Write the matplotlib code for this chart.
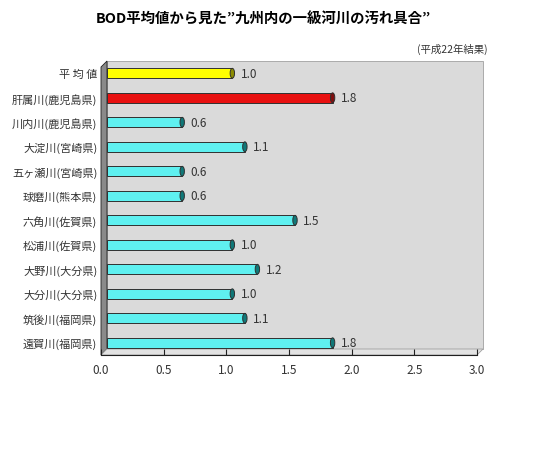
import numpy as np
import matplotlib
matplotlib.use("Agg")
import matplotlib.pyplot as plt
from matplotlib.patches import Polygon, Ellipse

plt.rcParams['font.family'] = ['Noto Sans CJK JP', 'DejaVu Sans']

# data
rivers = ['平 均 値', '肝属川(鹿児島県)', '川内川(鹿児島県)', '大淀川(宮崎県)',
          '五ヶ瀬川(宮崎県)', '球磨川(熊本県)', '六角川(佐賀県)', '松浦川(佐賀県)',
          '大野川(大分県)', '大分川(大分県)', '筑後川(福岡県)', '遠賀川(福岡県)']
bod = [1.0, 1.8, 0.6, 1.1, 0.6, 0.6, 1.5, 1.0, 1.2, 1.0, 1.1, 1.8]
bar_colors = ['#ffff00', '#e81010'] + ['#5ff0f0'] * 10
cap_colors = ['#8c8c00', '#801010'] + ['#107878'] * 10
x_ticks = [0.0, 0.5, 1.0, 1.5, 2.0, 2.5, 3.0]

W, H = 557, 464
fig = plt.figure(figsize=(W / 100, H / 100), dpi=100)

def fx(px):
    return px / W

def fy(py):
    return 1 - py / H

# background axes in pixel coords for the pseudo 3D walls
bg = fig.add_axes([0, 0, 1, 1])
bg.set_xlim(0, W)
bg.set_ylim(H, 0)
bg.axis('off')
back = Polygon([(107, 62), (483, 62), (483, 350), (107, 350)], closed=True,
               facecolor='#dadada', edgecolor='#a0a0a0', lw=0.6)
left = Polygon([(101, 68), (107, 62), (107, 350), (101, 356)], closed=True,
               facecolor='#8a8a8a', edgecolor='#202020', lw=0.6)
floor = Polygon([(101, 356), (477, 356), (483, 350), (107, 350)], closed=True,
                facecolor='#e2e2e2', edgecolor='#a0a0a0', lw=0.6)
for p in (back, left, floor):
    bg.add_patch(p)

# bars on the back plane
ax = fig.add_axes([fx(107), fy(356), fx(483) - fx(107), fy(62) - fy(356)])
ax.patch.set_alpha(0)
y = np.arange(len(rivers))
ax.barh(y, bod, height=0.4, color=bar_colors, edgecolor='#303030', lw=0.7, zorder=3)
for i, v in enumerate(bod):
    ax.add_patch(Ellipse((v, i), 0.035, 0.4, facecolor=cap_colors[i],
                         edgecolor='#303030', lw=0.7, zorder=4))
    ax.text(v + 0.065, i, f'{v:.1f}', va='center', ha='left', fontsize=8.5, color='#333333')
ax.set_xlim(0, 3)
ax.set_ylim(len(rivers) - 0.5, -0.5)
ax.set_yticks(y)
ax.set_yticklabels(rivers, fontsize=8, color='#333333')
ax.tick_params(axis='y', length=0, pad=7)
ax.set_xticks([])
for s in ax.spines.values():
    s.set_visible(False)

# front value axis
ax2 = fig.add_axes([fx(101), fy(356), fx(477) - fx(101), 0.001])
ax2.patch.set_alpha(0)
ax2.set_xlim(0, 3)
ax2.set_xticks(x_ticks)
ax2.set_xticklabels([f'{t:.1f}' for t in x_ticks], fontsize=8.5, color='#333333')
ax2.tick_params(axis='x', direction='in', length=4, pad=6, color='#202020')
ax2.set_yticks([])
for k in ('top', 'left', 'right'):
    ax2.spines[k].set_visible(False)
ax2.spines['bottom'].set_color('#202020')
ax2.spines['bottom'].set_linewidth(0.8)

fig.text(fx(263), fy(20), 'BOD平均値から見た”九州内の一級河川の汚れ具合”',
         ha='center', va='center', fontsize=10.4, fontweight='bold')
fig.text(fx(452), fy(49), '(平成22年結果)', ha='center', va='center',
         fontsize=7.5, color='#333333')

fig.savefig('out.png', dpi=100)
